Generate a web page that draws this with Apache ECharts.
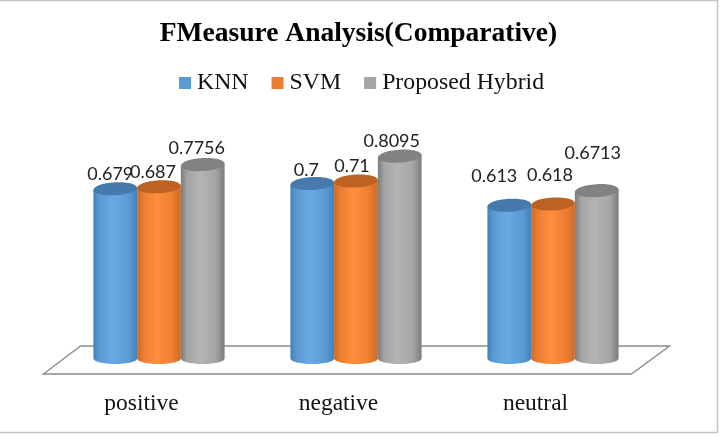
<!DOCTYPE html>
<html>
<head>
<meta charset="utf-8">
<style>html,body{margin:0;padding:0;background:#fff}#c{width:721px;height:436px}</style>
<script src="https://cdn.jsdelivr.net/npm/echarts@6/dist/echarts.min.js"></script>
</head>
<body>
<div id="c"></div>
<script>
const categories = ['positive', 'negative', 'neutral'];
const knn = [0.679, 0.7, 0.613];
const svm = [0.687, 0.71, 0.618];
const hybrid = [0.7756, 0.8095, 0.6713];

// Label nudges in pixels, one [dx, dy] per category, relative to the cylinder top.
const knnNudge = [[-5, -15], [-6, -13], [-15, -29]];
const svmNudge = [[-6, -15], [-4, -15], [-3, -29]];
const hybridNudge = [[-6, -16], [-8, -15], [-4, -37]];

const palette = {
  KNN: { light: '#66a9e4', mid: '#5b9bd5', dark: '#4580b8', top: '#4679ac' },
  SVM: { light: '#ff8f3d', mid: '#ed7d31', dark: '#cc6a26', top: '#bd6222' },
  Hybrid: { light: '#b4b4b4', mid: '#a5a5a5', dark: '#7c7c7c', top: '#828282' }
};

const SERIF = '"Liberation Serif", serif';
const BAR_SHARE = 0.222;

function cylinderSeries(name, values, tone, slot, nudges) {
  return {
    name: name,
    type: 'custom',
    coordinateSystem: 'cartesian2d',
    itemStyle: { color: tone.mid },
    encode: { x: 0, y: 1 },
    z: slot === 1 ? 4 : 3,
    data: values.map((v, i) => [i, v]),
    renderItem(params, api) {
      const i = api.value(0);
      const v = api.value(1);
      const band = api.size([1, 0])[0];
      const w = band * BAR_SHARE;
      const base = api.coord([i, 0]);
      const top = api.coord([i, v]);
      const cx = base[0] + slot * w + 1;
      const rx = w / 2;
      const ry = 5.5;
      const tilt = 0.06;
      const lift = rx * Math.sin(tilt);
      const fill = new echarts.graphic.LinearGradient(0, 0, 1, 0, [
        { offset: 0, color: tone.dark },
        { offset: 0.15, color: tone.mid },
        { offset: 0.45, color: tone.light },
        { offset: 0.8, color: tone.mid },
        { offset: 1, color: tone.dark }
      ]);
      const k = 0.5522847;
      const body = {
        type: 'path',
        shape: {
          pathData:
            'M' + (cx - rx) + ' ' + (top[1] + lift) +
            'L' + (cx - rx) + ' ' + base[1] +
            'C' + (cx - rx) + ' ' + (base[1] + ry * k) + ' ' + (cx - rx * k) + ' ' + (base[1] + ry) + ' ' + cx + ' ' + (base[1] + ry) +
            'C' + (cx + rx * k) + ' ' + (base[1] + ry) + ' ' + (cx + rx) + ' ' + (base[1] + ry * k) + ' ' + (cx + rx) + ' ' + base[1] +
            'L' + (cx + rx) + ' ' + (top[1] - lift) + 'Z'
        },
        style: { fill: fill }
      };
      const cap = {
        type: 'ellipse',
        shape: { cx: cx, cy: top[1], rx: rx, ry: ry + 1 },
        rotation: tilt,
        originX: cx,
        originY: top[1],
        style: { fill: tone.top }
      };
      const text = {
        type: 'text',
        z2: 10,
        style: {
          text: String(v),
          x: cx + nudges[i][0],
          y: top[1] + nudges[i][1],
          align: 'center',
          verticalAlign: 'middle',
          fill: '#222',
          font: '18px Lato, sans-serif'
        }
      };
      return { type: 'group', children: [body, cap, text] };
    }
  };
}

// Flat floor under the cylinders, expressed in axis space.
const floorSeries = {
  type: 'custom',
  silent: true,
  z: 1,
  data: [[0]],
  renderItem(params, api) {
    const band = api.size([1, 0])[0];
    const o0 = api.coord([0, 0]);
    const o2 = api.coord([2, 0]);
    const left = o0[0] - band / 2;
    const right = o2[0] + band / 2;
    const y = o0[1];
    return {
      type: 'polygon',
      shape: { points: [
        [left - 16, y + 15.5], [right - 19, y + 15.5],
        [right + 19, y - 12.5], [left + 21, y - 12.5]
      ] },
      style: { fill: '#fff', stroke: '#8c8c8c', lineWidth: 1.4 }
    };
  }
};

const chart = echarts.init(document.getElementById('c'), null, { renderer: 'canvas' });
chart.setOption({
  animation: false,
  backgroundColor: '#fff',
  title: {
    text: 'FMeasure Analysis(Comparative)',
    left: 353.5, top: 15, textAlign: 'center',
    textStyle: { fontFamily: SERIF, fontWeight: 'bold', fontSize: 27.5, color: '#000' }
  },
  legend: {
    top: 66, left: 174,
    icon: 'rect', itemWidth: 12, itemHeight: 12, itemGap: 23,
    textStyle: { fontFamily: SERIF, fontSize: 23.8, color: '#111', padding: [0, 0, 0, 1] },
    data: ['KNN', 'SVM', 'Proposed Hybrid']
  },
  grid: { left: 59.5, right: 70.5, top: 108.5, bottom: 77.5 },
  xAxis: {
    type: 'category',
    data: categories,
    axisLine: { show: false },
    axisTick: { show: false },
    axisLabel: { fontFamily: SERIF, fontSize: 23.5, color: '#111', margin: 33, padding: [0, 33, 0, 0] }
  },
  yAxis: { type: 'value', min: 0, max: 1, show: false, splitLine: { show: false } },
  graphic: [{
    type: 'polyline',
    silent: true,
    shape: { points: [[0, 0.5], [717.5, 0.5], [717.5, 432.5], [0, 432.5]] },
    style: { fill: null, stroke: '#c4c4c4', lineWidth: 1.5 }
  }],
  series: [
    floorSeries,
    cylinderSeries('KNN', knn, palette.KNN, -1, knnNudge),
    cylinderSeries('SVM', svm, palette.SVM, 0, svmNudge),
    cylinderSeries('Proposed Hybrid', hybrid, palette.Hybrid, 1, hybridNudge)
  ]
});
</script>
</body>
</html>
